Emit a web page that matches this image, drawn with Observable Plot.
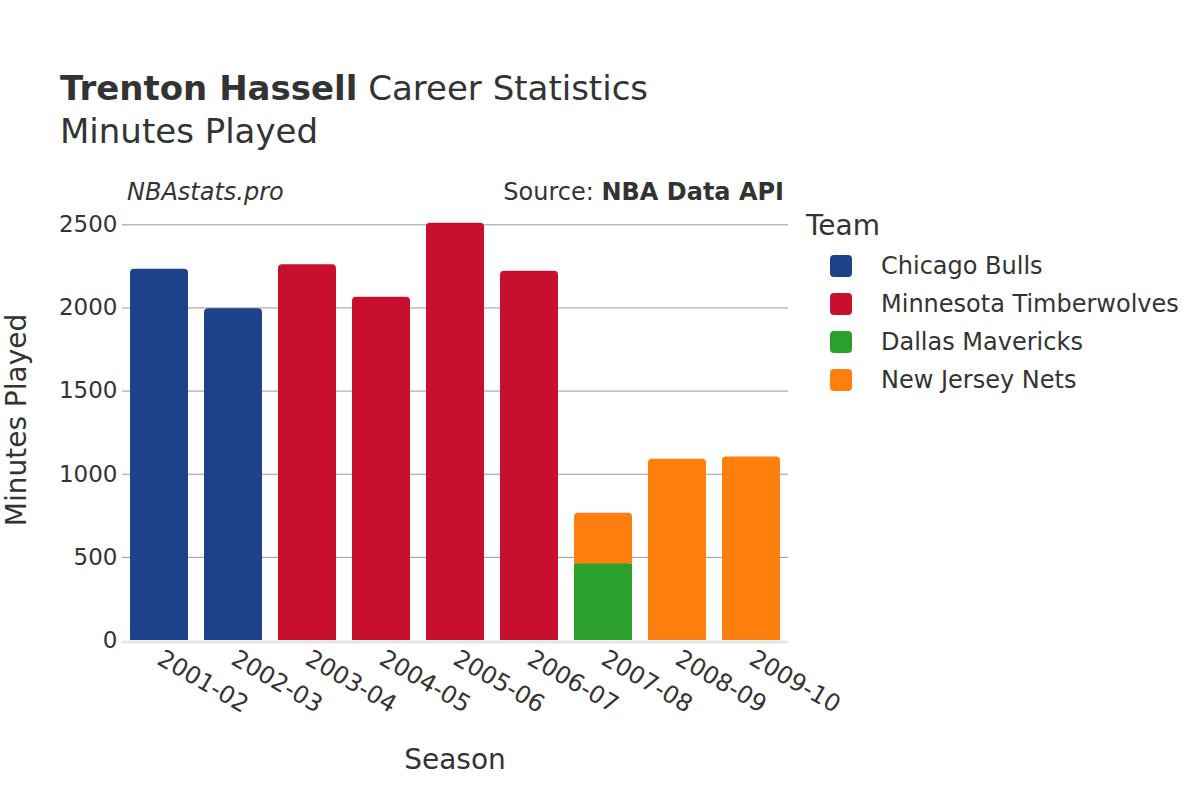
<!DOCTYPE html>
<html>
<head>
<meta charset="utf-8">
<script src="https://cdn.jsdelivr.net/npm/d3@7"></script>
<script src="https://cdn.jsdelivr.net/npm/@observablehq/plot@0.6"></script>
<style>
  html, body { margin: 0; padding: 0; background: #fff; }
  #wrap { position: relative; width: 1200px; height: 800px; font-family: "DejaVu Sans", sans-serif; color: #333; }
  #wrap svg { position: absolute; left: 0; top: 0; }
  .t { position: absolute; white-space: nowrap; line-height: 1; }
</style>
</head>
<body>
<div id="wrap"></div>
<script>
const seasons = ["2001-02","2002-03","2003-04","2004-05","2005-06","2006-07","2007-08","2008-09","2009-10"];
const teams = ["Chicago Bulls","Minnesota Timberwolves","Dallas Mavericks","New Jersey Nets"];
const teamColors = ["#1d428a","#c8102e","#2ca02c","#ff7f0e"];
// rows in stacking order (bottom first)
const rowSeason = ["2001-02","2002-03","2003-04","2004-05","2005-06","2006-07","2007-08","2007-08","2008-09","2009-10"];
const rowTeam = ["Chicago Bulls","Chicago Bulls","Minnesota Timberwolves","Minnesota Timberwolves","Minnesota Timberwolves","Minnesota Timberwolves","Dallas Mavericks","New Jersey Nets","New Jersey Nets","New Jersey Nets"];
const rowMinutes = [2233,1995,2260,2065,2510,2220,460,306,1090,1103];
const yTicks = [0,500,1000,1500,2000,2500];

const rows = rowSeason.map((s,i)=>({season:s, team:rowTeam[i], minutes:rowMinutes[i]}));
const isTop = rows.map((r,i)=> !rows.slice(i+1).some(o=>o.season===r.season));
const lower = rows.filter((r,i)=>!isTop[i]);

const chart = Plot.plot({
  width: 1200,
  height: 800,
  marginLeft: 122,
  marginRight: 412,
  marginTop: 216,
  marginBottom: 160,
  style: {fontFamily: "DejaVu Sans, sans-serif", fontSize: "23px", color: "#333", background: "transparent"},
  x: {domain: seasons, paddingInner: 0.216, paddingOuter: 0.108, label: null},
  y: {domain: [0, 2550], label: null},
  color: {domain: teams, range: teamColors},
  marks: [
    Plot.ruleY(yTicks.filter(d=>d>0), {stroke: "#999", strokeWidth: 1}),
    Plot.ruleY([0], {stroke: "#e6e6e6", strokeWidth: 3, dy: 1.5}),
    Plot.barY(rows, {x: "season", y: "minutes", fill: "team", rx: 4}),
    Plot.barY(rows, {x: "season", y: "minutes", fill: "team", insetTop: 6}),
    Plot.barY(lower, {x: "season", y: "minutes", fill: "team"}),
    Plot.axisY({ticks: yTicks, tickFormat: d => String(d), tickSize: 0, tickPadding: 5, label: null, fontSize: 23}),
    Plot.axisX({tickSize: 0, tickRotate: 30, tickPadding: 16, label: null, fontSize: 24})
  ]
});
const wrap = document.getElementById("wrap");
wrap.appendChild(chart);

function addText(html, css){
  const d = document.createElement("div");
  d.className = "t";
  d.innerHTML = html;
  Object.assign(d.style, css);
  wrap.appendChild(d);
  return d;
}
addText('<b>Trenton Hassell</b> Career Statistics', {left:"60px", top:"88px", fontSize:"34px", transform:"translateY(-50%)"});
addText('Minutes Played', {left:"60px", top:"131px", fontSize:"34px", transform:"translateY(-50%)"});
addText('<i>NBAstats.pro</i>', {left:"127px", top:"192px", fontSize:"24px", transform:"translateY(-50%)"});
addText('Source: <b>NBA Data API</b>', {right:"416px", top:"192px", fontSize:"24px", transform:"translateY(-50%)"});
addText('Minutes Played', {left:"17px", top:"420px", fontSize:"28px", transform:"translate(-50%,-50%) rotate(-90deg)"});
addText('Season', {left:"455px", top:"760px", fontSize:"28px", transform:"translate(-50%,-50%)"});
addText('Team', {left:"806px", top:"226px", fontSize:"28px", transform:"translateY(-50%)"});
teams.forEach((t,i)=>{
  const y = 266 + i*38;
  addText('', {left:"830px", top:(y-11)+"px", width:"22px", height:"22px", borderRadius:"4px", background: teamColors[i]});
  addText(t, {left:"881px", top:y+"px", fontSize:"24px", transform:"translateY(-50%)"});
});
</script>
</body>
</html>
